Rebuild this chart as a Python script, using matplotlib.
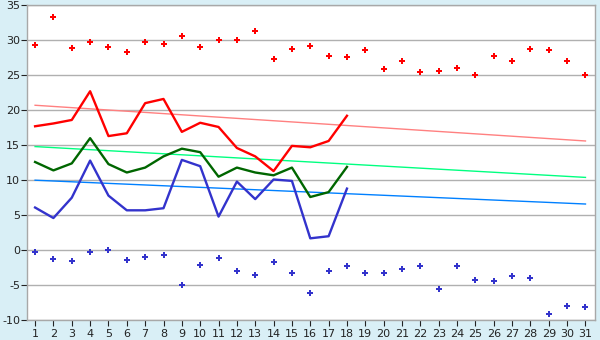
import matplotlib
matplotlib.use('Agg')
import matplotlib.pyplot as plt

plt.rcParams['axes.unicode_minus'] = False

days = list(range(1, 32))

# maximum / minimum points per day
max_points = [29.3, 33.3, 28.9, 29.7, 29.0, 28.3, 29.7, 29.4, 30.6, 29.0,
              30.0, 30.0, 31.3, 27.3, 28.7, 29.1, 27.7, 27.6, 28.6, 25.9,
              27.0, 25.4, 25.6, 26.0, 25.0, 27.7, 27.0, 28.7, 28.6, 27.0, 25.0]
min_points = [-0.2, -1.3, -1.6, -0.3, 0.0, -1.4, -1.0, -0.7, -5.0, -2.1,
              -1.1, -3.0, -3.6, -1.7, -3.3, -6.1, -3.0, -2.3, -3.3, -3.3,
              -2.7, -2.3, -5.6, -2.3, -4.3, -4.4, -3.7, -4.0, -9.1, -7.9, -8.1]

# measured lines (days 1-18)
line_days = list(range(1, 19))
t_max = [17.7, 18.1, 18.6, 22.7, 16.3, 16.7, 21.0, 21.6, 16.9, 18.2,
         17.6, 14.6, 13.4, 11.3, 14.9, 14.7, 15.6, 19.2]
t_mean = [12.6, 11.4, 12.4, 16.0, 12.3, 11.1, 11.8, 13.4, 14.5, 14.0,
          10.5, 11.8, 11.1, 10.7, 11.8, 7.6, 8.3, 11.9]
t_min = [6.1, 4.6, 7.5, 12.8, 7.8, 5.7, 5.7, 6.0, 12.9, 12.0,
         4.8, 9.8, 7.3, 10.1, 9.9, 1.7, 2.0, 8.8]

# normal lines (start / end values)
norm_days = [1, 31]
norm_max = [20.7, 15.6]
norm_mean = [14.8, 10.4]
norm_min = [10.0, 6.6]

bg = '#d9eff6'
fig = plt.figure(figsize=(6, 3.4), dpi=100, facecolor=bg)
ax = fig.add_axes([0.045, 0.058, 0.947, 0.927])
ax.set_facecolor('white')

ax.plot(norm_days, norm_max, color='#ff8080', lw=1.0, zorder=2)
ax.plot(norm_days, norm_mean, color='#00ff80', lw=1.0, zorder=2)
ax.plot(norm_days, norm_min, color='#0080ff', lw=1.0, zorder=2)

ax.plot(line_days, t_max, color='#ff0000', lw=1.7, zorder=3)
ax.plot(line_days, t_mean, color='#006600', lw=1.7, zorder=3)
ax.plot(line_days, t_min, color='#3333cc', lw=1.7, zorder=3)

ax.plot(days, max_points, 'P', color='#ff0000', ms=4.8, mew=0, ls='none', zorder=4)
ax.plot(days, min_points, 'P', color='#3333cc', ms=4.8, mew=0, ls='none', zorder=4)

ax.set_xlim(0.56, 31.53)
ax.set_ylim(-10, 35)
ax.set_yticks(range(-10, 36, 5))
ax.set_xticks(days)
ax.yaxis.grid(True, color='#b0b0b0', lw=1.0)
ax.set_axisbelow(True)

for s in ax.spines.values():
    s.set_color('#a8a8a8')
    s.set_linewidth(1.0)
ax.tick_params(axis='both', colors='#222222', labelsize=8, length=4, width=0.8, pad=2)
ax.tick_params(axis='y', pad=1)

fig.savefig('out.png', dpi=100, facecolor=bg)
